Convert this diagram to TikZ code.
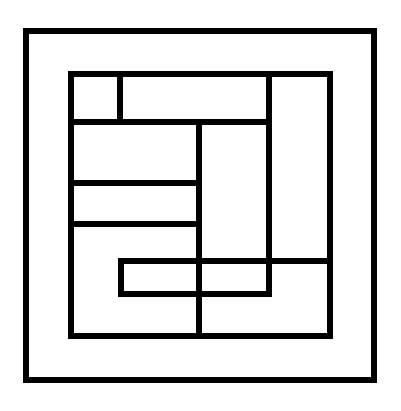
\documentclass[tikz,border=0pt]{standalone}
\begin{document}
\begin{tikzpicture}[x=1pt,y=-1pt,
  wall/.style={line width=6pt,line cap=rect,line join=miter,draw=black}]
\useasboundingbox (0,0) rectangle (400,411);
\fill[white] (0,0) rectangle (400,411);
% outer frame
\draw[wall] (25.5,31.5) rectangle (374,380);
% inner frame
\draw[wall] (70.5,74.5) rectangle (330,335.5);
% top-left cell divider
\draw[wall] (120,74.5) -- (120,122);
% horizontal under top row
\draw[wall] (70.5,122) -- (269,122);
% right tall column
\draw[wall] (269,74.5) -- (269,294);
% middle vertical
\draw[wall] (199,122) -- (199,335.5);
% left horizontals
\draw[wall] (70.5,183.5) -- (199,183.5);
\draw[wall] (70.5,224) -- (199,224);
% small rectangle
\draw[wall] (330,260.5) -- (120.5,260.5) -- (120.5,293.5) -- (269,293.5);
\end{tikzpicture}
\end{document}
